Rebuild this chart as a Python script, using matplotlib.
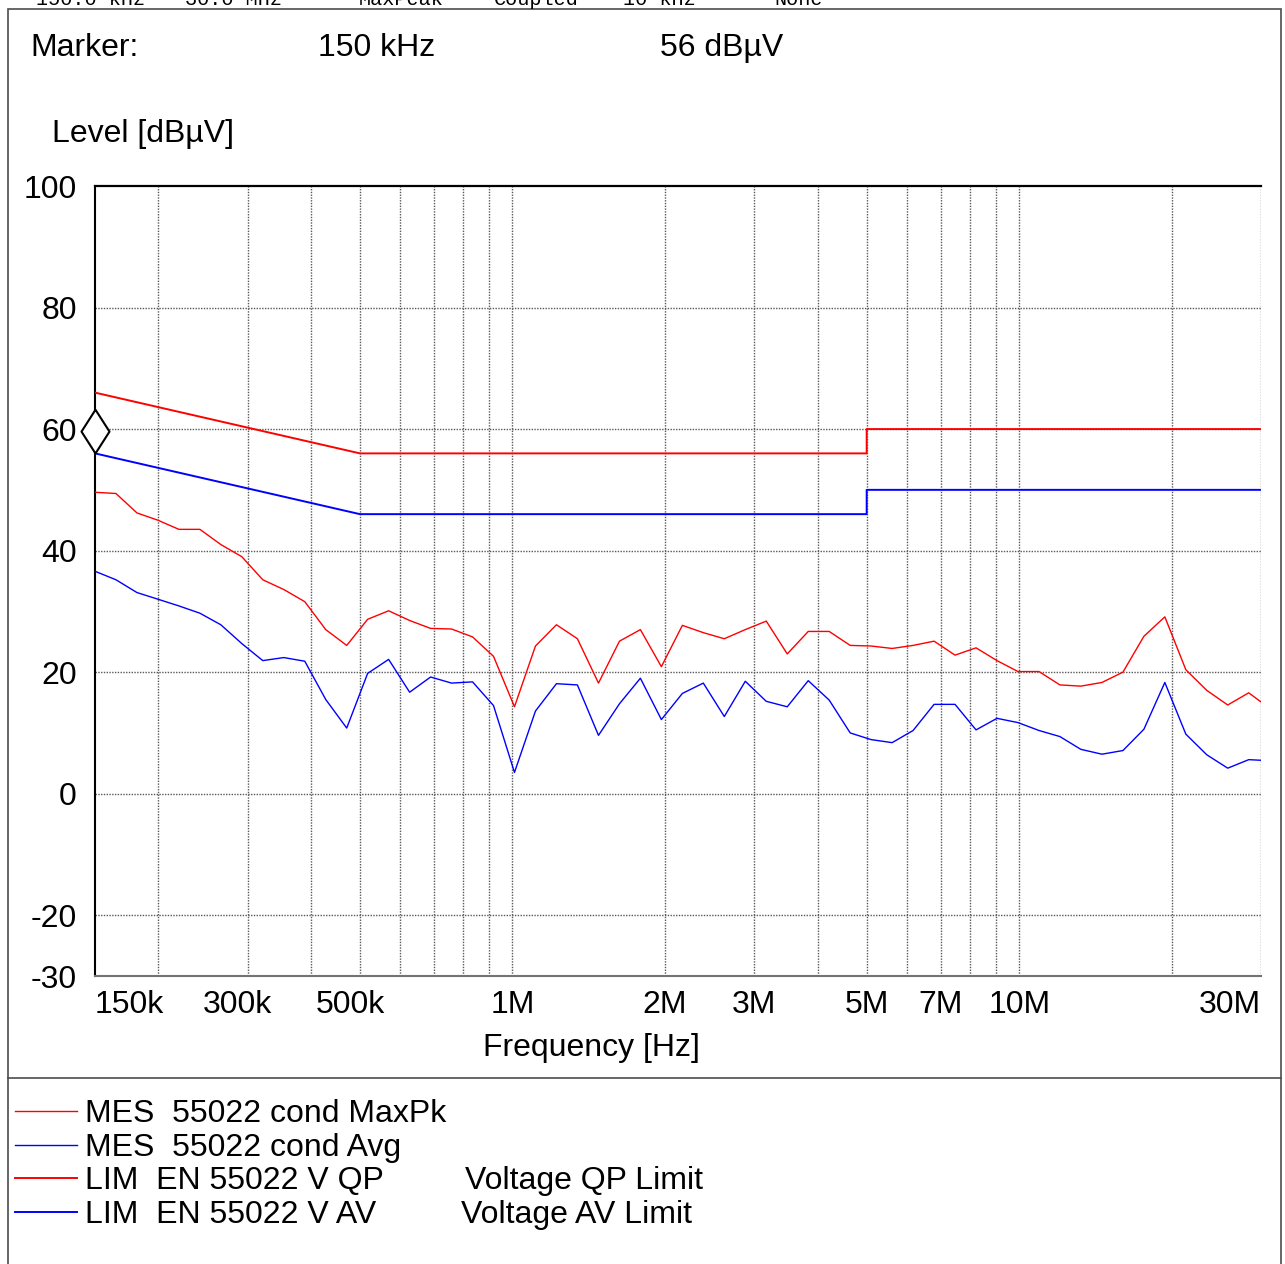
#!/usr/bin/env python3
"""
EMI conducted emission scan (EN 55022, voltage), recreated as a plain matplotlib figure.
Peak and average traces against the QP / AV limit lines, log frequency axis.
"""
import matplotlib
matplotlib.use("Agg")
import matplotlib.pyplot as plt
from matplotlib.lines import Line2D
from matplotlib.patches import Rectangle
from matplotlib.path import Path
import matplotlib.transforms as mtrans

# scan frequencies in MHz (prescan steps, 10 % apart, last point = stop frequency)
freq_mhz = [0.150, 0.165, 0.1815, 0.1997, 0.2196, 0.2416, 0.2657, 0.2923, 0.3215, 0.3537,
            0.3891, 0.4280, 0.4708, 0.5178, 0.5696, 0.6266, 0.6892, 0.7582, 0.8340, 0.9174,
            1.009, 1.110, 1.221, 1.343, 1.478, 1.626, 1.788, 1.967, 2.164, 2.380,
            2.618, 2.880, 3.168, 3.485, 3.834, 4.217, 4.639, 5.102, 5.613, 6.174,
            6.791, 7.470, 8.218, 9.039, 9.943, 10.94, 12.03, 13.23, 14.56, 16.02,
            17.62, 19.38, 21.32, 23.45, 25.79, 28.37, 30.0]

maxpk_dbuv = [49.6, 49.4, 46.2, 45.0, 43.5, 43.5, 41.0, 39.0, 35.2, 33.6,
              31.6, 27.0, 24.4, 28.7, 30.1, 28.5, 27.2, 27.1, 25.8, 22.6,
              14.3, 24.3, 27.8, 25.5, 18.2, 25.1, 27.0, 20.9, 27.7, 26.5,
              25.5, 27.0, 28.4, 23.0, 26.7, 26.7, 24.4, 24.3, 23.9, 24.4,
              25.1, 22.8, 24.0, 21.9, 20.1, 20.1, 17.9, 17.7, 18.3, 20.0,
              25.9, 29.1, 20.4, 17.0, 14.6, 16.6, 15.1]

avg_dbuv = [36.6, 35.2, 33.1, 32.0, 30.9, 29.7, 27.8, 24.7, 21.9, 22.4,
            21.8, 15.5, 10.8, 19.8, 22.1, 16.7, 19.2, 18.2, 18.4, 14.5,
            3.5, 13.6, 18.1, 17.9, 9.6, 14.8, 19.0, 12.2, 16.5, 18.2,
            12.7, 18.5, 15.2, 14.3, 18.6, 15.4, 10.0, 8.9, 8.4, 10.4,
            14.7, 14.7, 10.5, 12.4, 11.7, 10.4, 9.4, 7.3, 6.5, 7.1,
            10.6, 18.3, 9.8, 6.4, 4.2, 5.6, 5.5]

# EN 55022 class B limits (break points)
lim_freq_mhz = [0.15, 0.5, 5.0, 5.0, 30.0]
lim_qp_dbuv = [66, 56, 56, 60, 60]
lim_av_dbuv = [56, 46, 46, 50, 50]

marker_freq_mhz = 0.15
marker_dbuv = 56

xtick_mhz = [0.15, 0.3, 0.5, 1, 2, 3, 5, 7, 10, 30]
xtick_labels = ["150k", "300k", "500k", "1M", "2M", "3M", "5M", "7M", "10M", "30M"]
xgrid_mhz = [0.2, 0.3, 0.4, 0.5, 0.6, 0.7, 0.8, 0.9, 1, 2, 3, 4, 5, 6, 7, 8, 9, 10, 20, 30]
ytick_vals = [100, 80, 60, 40, 20, 0, -20, -30]
ygrid_vals = [80, 60, 40, 20, 0, -20]

legend_names = ["MES  55022 cond MaxPk", "MES  55022 cond Avg",
                "LIM  EN 55022 V QP", "LIM  EN 55022 V AV"]
legend_notes = ["", "", "Voltage QP Limit", "Voltage AV Limit"]
header_words = ["150.0 kHz", "30.0 MHz", "MaxPeak", "Coupled", "10 kHz", "None"]

W, H = 1285, 1264
FONT = "Liberation Sans"
FS = 23


def fx(px):
    return px / W


def fy(py):
    return 1 - py / H


def main():
    plt.rcParams["font.family"] = [FONT, "DejaVu Sans"]
    fig = plt.figure(figsize=(W / 100, H / 100), dpi=100)
    ax = fig.add_axes([fx(95), fy(976), fx(1261) - fx(95), fy(186) - fy(976)])

    ax.plot(freq_mhz, maxpk_dbuv, color="red", lw=1.0, zorder=3)
    ax.plot(freq_mhz, avg_dbuv, color="blue", lw=1.0, zorder=3)
    ax.plot(lim_freq_mhz, lim_qp_dbuv, color="red", lw=1.4, zorder=3)
    ax.plot(lim_freq_mhz, lim_av_dbuv, color="blue", lw=1.4, zorder=3)

    # marker diamond: bottom tip sits on the marker value
    diamond = Path([(0, 0), (0.32, 0.5), (0, 1), (-0.32, 0.5), (0, 0)],
                   [Path.MOVETO, Path.LINETO, Path.LINETO, Path.LINETO, Path.CLOSEPOLY])
    ax.plot([marker_freq_mhz], [marker_dbuv], marker=diamond, ms=63, mfc="white",
            mec="black", mew=1.5, ls="none", clip_on=False, zorder=6)

    ax.set_xscale("log")
    ax.set_xlim(0.15, 30)
    ax.set_ylim(-30, 100)

    grid_kw = dict(color="0.35", lw=1.0, ls=(0, (1, 1)), zorder=1)
    for g in xgrid_mhz:
        ax.axvline(g, **grid_kw)
    for g in ygrid_vals:
        ax.axhline(g, **grid_kw)

    ax.xaxis.set_minor_locator(matplotlib.ticker.NullLocator())
    ax.set_xticks(xtick_mhz)
    ax.set_xticklabels(xtick_labels, fontsize=FS)
    ax.set_yticks(ytick_vals)
    ax.set_yticklabels([str(v) for v in ytick_vals], fontsize=FS)
    ax.tick_params(axis="both", length=0)
    ax.tick_params(axis="x", pad=10)
    ax.tick_params(axis="y", pad=13)

    labels = ax.get_xticklabels()
    labels[0].set_ha("left")
    labels[-1].set_ha("right")
    shift = mtrans.ScaledTranslation(-10 / 100, 0, fig.dpi_scale_trans)
    for lab in labels[1:3]:
        lab.set_transform(lab.get_transform() + shift)

    ax.spines["right"].set_visible(False)
    ax.spines["top"].set_color("black")
    ax.spines["top"].set_linewidth(1.6)
    ax.spines["left"].set_color("black")
    ax.spines["left"].set_linewidth(1.5)
    ax.spines["bottom"].set_color("0.45")
    ax.spines["bottom"].set_linewidth(1.5)

    # outer frame and legend divider
    fig.add_artist(Rectangle((fx(8), fy(1300)), fx(1281) - fx(8), fy(9) - fy(1300),
                             transform=fig.transFigure, fill=False, ec="0.3", lw=1.2))
    fig.add_artist(Line2D([fx(8), fx(1281)], [fy(1078), fy(1078)],
                          transform=fig.transFigure, color="0.3", lw=1.2))

    # scan settings line at the very top, cut by the page edge as in the printout
    header_x = [36, 185, 359, 494, 623, 774]
    for word, x in zip(header_words, header_x):
        fig.text(fx(x), fy(5), word, family="Liberation Mono", fontsize=14.5,
                 va="baseline", ha="left")

    fig.text(fx(30), fy(56), "Marker:", fontsize=FS, va="baseline")
    fig.text(fx(318), fy(56), "150 kHz", fontsize=FS, va="baseline")
    fig.text(fx(660), fy(56), "56 dBµV", fontsize=FS, va="baseline")
    fig.text(fx(52), fy(142), "Level [dBµV]", fontsize=FS, va="baseline")
    fig.text(fx(483), fy(1056), "Frequency [Hz]", fontsize=FS, va="baseline")

    # legend block
    key_colors = ["red", "blue", "red", "blue"]
    key_widths = [1.0, 1.0, 1.4, 1.4]
    note_x = [0, 0, 465, 461]
    for i, name in enumerate(legend_names):
        yl = 1111 + 33.7 * i
        fig.add_artist(Line2D([fx(15), fx(77)], [fy(yl), fy(yl)], transform=fig.transFigure,
                              color=key_colors[i], lw=key_widths[i]))
        fig.text(fx(85), fy(yl + 11), name, fontsize=FS, va="baseline")
        if legend_notes[i]:
            fig.text(fx(note_x[i]), fy(yl + 11), legend_notes[i], fontsize=FS, va="baseline")

    fig.savefig("out.png", dpi=100)
    plt.close(fig)


if __name__ == "__main__":
    main()
